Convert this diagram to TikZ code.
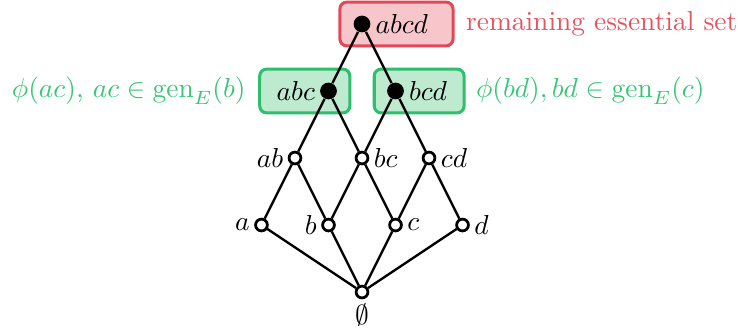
\documentclass[tikz,border=0pt]{standalone}
\usepackage{amsmath}
\usepackage{tikz}
\usetikzlibrary{positioning,fit,backgrounds}
\definecolor{essred}{RGB}{228,72,88}
\definecolor{essredfill}{RGB}{246,198,203}
\definecolor{essredtext}{RGB}{226,84,98}
\definecolor{gengreen}{RGB}{46,190,108}
\definecolor{gengreenfill}{RGB}{190,234,208}
\definecolor{gengreentext}{RGB}{58,196,120}
\tikzset{
  fulldot/.style={circle, fill=black, inner sep=0pt, minimum size=6.1pt},
  opendot/.style={circle, draw=black, fill=white, line width=1pt, inner sep=0pt, minimum size=4.3pt},
  edge/.style={line width=0.85pt},
  every label/.style={inner sep=1.5pt},
  redbox/.style={draw=essred, fill=essredfill, line width=1.1pt, rounded corners=2.5pt, inner xsep=6.1pt, inner ysep=2.8pt, xshift=1.3pt},
  greenbox/.style={draw=gengreen, fill=gengreenfill, line width=1.1pt, rounded corners=2.5pt, inner xsep=4.5pt, inner ysep=2.8pt},
}

\begin{document}
\begin{tikzpicture}[x=0.429cm, y=0.858cm]
      \useasboundingbox (-4.635cm, -0.525cm) rectangle (4.827cm, 3.739cm);
      % lattice
      \node[opendot, label=below:$\emptyset$] (emptyset) at (0, 0) {};
      \node[opendot, label=left:$a$] (a) at (-3, 1) {};
      \node[opendot, label=left:$b$] (b) at (-1, 1) {};
      \node[opendot, label=right:$c$] (c) at (1, 1) {};
      \node[opendot, label=right:$d$] (d) at (3, 1) {};
      \node[opendot, label=left:$ab$] (ab) at (-2, 2) {};
      \node[opendot, label=right:$bc$] (bc) at (0, 2) {};
      \node[opendot, label=right:$cd$] (cd) at (2, 2) {};
      \node[fulldot, label={[name=abcL]left:$abc$}] (abc) at (-1, 3) {};
      \node[fulldot, label={[name=bcdL]right:$bcd$}] (bcd) at (1, 3) {};
      \node[fulldot, label={[name=abcdL]right:$abcd$}] (abcd) at (0, 4) {};
      \draw[edge] (a) -- (emptyset) -- (d);
      \draw[edge] (b) -- (emptyset) -- (c);
      \draw[edge] (a) -- (ab) -- (b) -- (bc) -- (c) -- (cd) -- (d);
      \draw[edge] (ab) -- (abc) -- (bc) -- (bcd) -- (cd);
      \draw[edge] (abc) -- (abcd) -- (bcd);
      % highlighted sets
      \begin{scope}[on background layer]
        \node[redbox, fit=(abcd)(abcdL)] (abcdbox) {};
        \node[greenbox, fit=(abcL)(abc)] (abcbox) {};
        \node[greenbox, fit=(bcd)(bcdL)] (bcdbox) {};
      \end{scope}
      \node[right=4pt of abcdbox, inner sep=0pt, text=essredtext] (essnote) {remaining essential set};
      \node[left=4.4pt of abcbox, inner sep=0pt, text=gengreentext] (abcnote) {$\phi(ac)$, $ac \in \mathrm{gen}_E(b)$};
      \node[right=3.6pt of bcdbox, inner sep=0pt, text=gengreentext] (bcdnote) {$\phi(bd), bd \in \mathrm{gen}_E(c)$};
    \end{tikzpicture}
\end{document}
